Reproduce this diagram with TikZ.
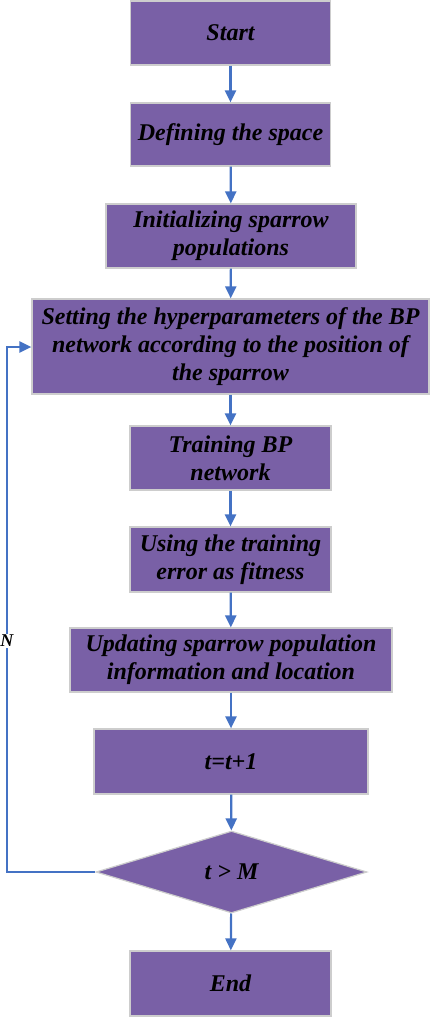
\documentclass[tikz,border=0pt]{standalone}
\usepackage{fontspec}
\setmainfont{Liberation Serif}
\usetikzlibrary{shapes.geometric,arrows.meta}
\definecolor{boxpurple}{RGB}{121,96,166}
\definecolor{boxedge}{RGB}{205,205,205}
\definecolor{flowblue}{RGB}{68,114,196}
\begin{document}
\begin{tikzpicture}[x=0.5pt,y=-0.5pt,
  procbox/.style={draw=boxedge,line width=0.6pt,fill=boxpurple,inner sep=0pt,align=center,
    font=\fontsize{12}{14}\selectfont\bfseries\itshape},
  decide/.style={procbox,shape=diamond,minimum width=135.5pt,minimum height=41pt},
  flow/.style={draw=flowblue,line width=1.1pt,-{Triangle[width=5.5pt,length=6pt]}}]

  \useasboundingbox (0,0) rectangle (431,1017);

  \node[procbox,minimum width=100pt,minimum height=32pt] (start) at (230.5,33) {Start};
  \node[procbox,minimum width=100pt,minimum height=31.5pt] (define) at (230.5,134.5) {Defining the space};
  \node[procbox,minimum width=125pt,minimum height=32pt] (init) at (231,236) {Initializing sparrow\\populations};
  \node[procbox,minimum width=198.5pt,minimum height=47.5pt] (hyper) at (230.5,346.5)
    {Setting the hyperparameters of the BP\\network according to the position of\\the sparrow};
  \node[procbox,minimum width=100.5pt,minimum height=32pt] (train) at (230.5,458) {Training BP\\network};
  \node[procbox,minimum width=100.5pt,minimum height=32.5pt] (fit) at (230.5,559.5) {Using the training\\error as fitness};
  \node[procbox,minimum width=161pt,minimum height=32pt] (update) at (231,660)
    {Updating sparrow population\\information and location};
  \node[procbox,minimum width=137pt,minimum height=32.5pt] (incr) at (231,761.5) {t=t+1};
  \node[decide] (check) at (231.5,872) {t > M};
  \node[procbox,minimum width=100.5pt,minimum height=32.5pt] (stop) at (230.5,983.5) {End};

  \draw[flow] (start) -- (define);
  \draw[flow] (define) -- (init);
  \draw[flow] (init) -- (hyper);
  \draw[flow] (hyper) -- (train);
  \draw[flow] (train) -- (fit);
  \draw[flow] (fit) -- (update);
  \draw[flow] (update) -- (incr);
  \draw[flow] (incr) -- (check);
  \draw[flow] (check) -- (stop);

  \coordinate (loopdown) at (7,872);
  \coordinate (loopup) at (7,347);
  \draw[flow] (check.west) -- (loopdown) -- (loopup) -- (hyper.west |- loopup);
  \node[fill=white,inner sep=0.5pt,font=\fontsize{9}{10}\selectfont\bfseries\itshape] (nlabel) at (7,641) {N};

\end{tikzpicture}
\end{document}
